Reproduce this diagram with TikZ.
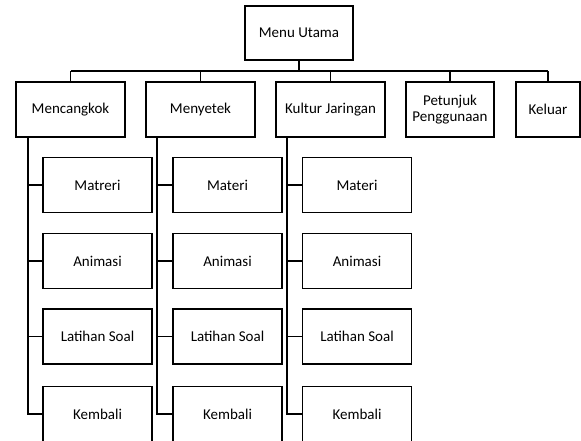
\documentclass[tikz,border=0pt]{standalone}
\usepackage{fontspec}
\setmainfont{Carlito}
\begin{document}
\begin{tikzpicture}[x=1pt,y=-1pt,
  box/.style={draw,line width=1.9pt,inner sep=0pt,align=center,font=\fontsize{15}{16}\selectfont},
  lbl/.style={font=\fontsize{15}{16}\selectfont},
  conn/.style={line width=1.9pt}]
\useasboundingbox (0,0) rectangle (581,441);
\node[box,minimum width=108pt,minimum height=54pt] (menu) at (299,33) {Menu Utama};
\node[box,minimum width=109pt,minimum height=55pt] (m1) at (70.5,109.5) {Mencangkok};
\node[box,minimum width=109pt,minimum height=55pt] (m2) at (200.5,109.5) {Menyetek};
\node[box,minimum width=109pt,minimum height=55pt] (m3) at (330.5,109.5) {Kultur Jaringan};
\node[box,minimum width=88pt,minimum height=55pt] (m4) at (450,109.5) {Petunjuk\\Penggunaan};
\node[box,minimum width=64pt,minimum height=55pt] (m5) at (548,109.5) {Keluar};
\coordinate (bus) at (299,71);
\draw[conn] (menu.south) -- (bus);
\draw[conn] (m1.north |- bus) -- (m5.north |- bus);
\foreach \i in {1,...,5}{\draw[conn] (m\i.north) -- (m\i.north |- bus);}
% children
\foreach \c/\x/\s in {1/97.5/28,2/227.5/157,3/357/287}{
  \coordinate (s\c) at (\s,137);
  \foreach \r/\y in {1/185,2/261,3/336.5,4/414}{
    \node[box,minimum width=109pt,minimum height=55pt] (c\c\r) at (\x,\y) {};
  }
}
\node[lbl] at (c11) {Matreri};
\node[lbl] at (c21) {Materi};
\node[lbl] at (c31) {Materi};
\foreach \c in {1,2,3}{
  \node[lbl] at (c\c2) {Animasi};
  \node[lbl] at (c\c3) {Latihan Soal};
  \node[lbl] at (c\c4) {Kembali};
  \draw[conn] (s\c) |- (c\c4.west);
  \foreach \r in {1,2,3}{\draw[conn] (s\c |- c\c\r.west) -- (c\c\r.west);}
}
\end{tikzpicture}
\end{document}
